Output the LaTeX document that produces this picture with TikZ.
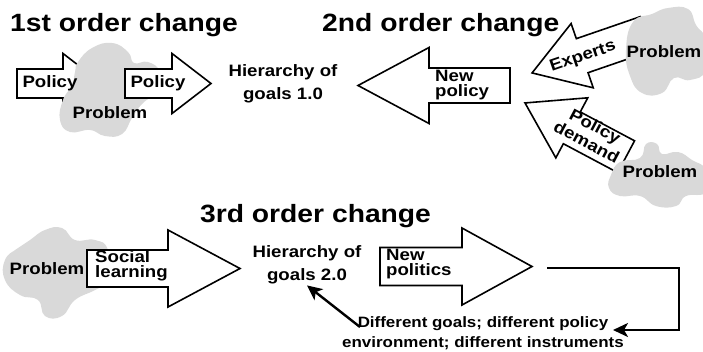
\documentclass[tikz,border=0pt]{standalone}
\usepackage{fontspec}
\setmainfont{Liberation Sans}[FakeStretch=1.13]
\usetikzlibrary{arrows.meta}

% block arrow: tail x, tail y, angle, body length, body half width, head length, head half width
\newcommand{\blockarrow}[7]{%
  \begin{scope}[shift={(#1,#2)},rotate=#3]
    \draw[arrowbox] (0,#5) -- (#4,#5) -- (#4,#7) -- ({#4+#6},0) -- (#4,-#7) -- (#4,-#5) -- (0,-#5) -- cycle;
  \end{scope}}

\tikzset{
  arrowbox/.style={draw, line width=1.6pt, fill=white, line join=miter},
  blob/.style={fill=black!15},
  heading/.style={font=\fontsize{25}{30}\selectfont\bfseries, anchor=base west, inner sep=0pt},
  txt/.style={font=\fontsize{16.5}{23}\selectfont\bfseries, align=center, inner sep=1pt},
  tight/.style={font=\fontsize{16.5}{15}\selectfont\bfseries, align=left, inner sep=1pt},
  small/.style={font=\fontsize{15}{20}\selectfont\bfseries, align=center, inner sep=1pt},
  loopline/.style={line width=2.4pt, -{Stealth[length=15pt,width=14pt,inset=4pt]}}
}

\begin{document}
\begin{tikzpicture}[x=1pt,y=-1pt]

	\useasboundingbox (0,0) rectangle (703,351);

	% headings
	\node[heading] (title1) at (10,31) {1st order change};
	\node[heading] (title2) at (322,31) {2nd order change};
	\node[heading] (title3) at (200,222) {3rd order change};

	% 1st order change
	\blockarrow{17}{83.5}{0}{46}{14.5}{39}{30}
	\fill[blob] plot[smooth cycle, tension=0.8] coordinates {(78,62) (92,48) (112,43) (128,52) (134,63) (148,62) (160,72) (158,90) (142,104) (132,118) (122,134) (105,136) (90,130) (70,132) (60,120) (63,100) (72,85) (75,72)};
	\blockarrow{125}{83.5}{0}{47}{14.5}{39}{30}
	\node[txt] (pol1) at (50,83) {Policy};
	\node[txt] (pol2) at (158,83) {Policy};
	\node[txt] (prob1) at (110,113) {Problem};
	\node[txt] (goals1) at (283,84) {Hierarchy of\\goals 1.0};

	% 2nd order change
	\blockarrow{510}{85.5}{180}{81}{17.5}{71}{38}
	\node[tight, anchor=west] (newpol) at (434,85) {New\\policy};

	\blockarrow{646}{33.7}{199}{67.5}{18}{53}{34}
	\fill[blob] plot[smooth cycle, tension=0.8] coordinates {(633,22) (652,14) (668,8) (688,9) (696,25) (706,40) (706,70) (690,80) (674,78) (662,93) (642,93) (630,76) (626,50)};
	\node[txt, rotate=19] (experts) at (583,57) {Experts};
	\node[txt] (prob2) at (664,52) {Problem};

	\blockarrow{626.1}{156.7}{152}{61.5}{18}{53}{34}
	\fill[blob] plot[smooth cycle, tension=0.8] coordinates {(611,175) (620,162) (640,158) (646,144) (657,144) (662,154) (678,152) (692,160) (706,170) (706,192) (686,196) (676,206) (656,206) (640,196) (620,196) (609,188)};
	\node[txt, rotate=-28, font=\fontsize{16.5}{18}\selectfont\bfseries] (demand) at (591,134) {Policy\\demand};
	\node[txt] (prob3) at (660,172) {Problem};

	% 3rd order change
	\fill[blob] plot[smooth cycle, tension=0.8] coordinates {(30,240) (45,230) (62,228) (75,240) (95,240) (108,250) (110,280) (95,290) (75,300) (62,316) (45,316) (38,300) (20,295) (5,280) (5,260) (18,248)};
	\node[txt] (prob4) at (47,269) {Problem};
	\blockarrow{87}{268.5}{0}{81}{18.5}{72}{38.5}
	\node[tight, anchor=west] (social) at (94,266) {Social\\learning};
	\node[txt] (goals2) at (307,265) {Hierarchy of\\goals 2.0};

	\blockarrow{380}{266.5}{0}{82}{19}{70}{38.5}
	\node[tight, anchor=west] (newpolit) at (385,264) {New\\politics};

	\node[small] (diff) at (483,333) {Different goals; different policy\\environment; different instruments};

	\coordinate (polout) at (547,268);
	\coordinate (corner) at (679,330);
	\coordinate (diffin) at (613,330);
	\coordinate (diffout) at (360,327);
	\draw[loopline] (polout) -| (corner) -- (diffin);
	\draw[loopline] (diffout) -- (goals2.south);

\end{tikzpicture}
\end{document}
